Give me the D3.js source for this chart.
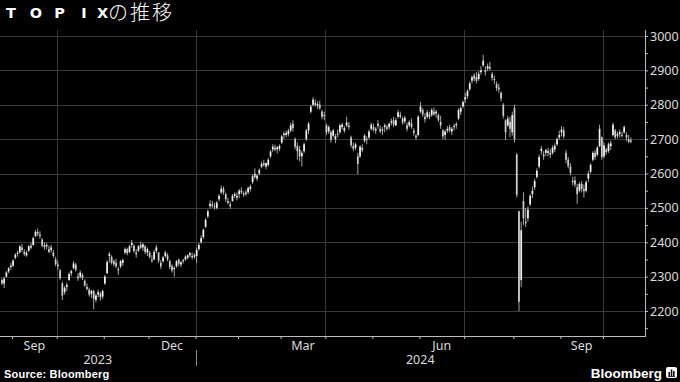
<!DOCTYPE html>
<html><head><meta charset="utf-8">
<script src="https://cdn.jsdelivr.net/npm/d3@7"></script>
<style>html,body{margin:0;padding:0;background:#000;}svg{display:block;}</style>
</head><body>
<svg id="chart" width="680" height="382"></svg>
<script>
// ---------- data ----------
const firstDay = "2023-08-25";
const lastDay = "2024-10-18";
const holidays = ["2023-09-18","2023-10-09","2023-11-03","2023-11-23","2024-01-01","2024-01-02","2024-01-03","2024-01-08","2024-02-12","2024-02-23","2024-03-20","2024-04-29","2024-05-03","2024-05-06","2024-07-15","2024-08-12","2024-09-16","2024-09-23","2024-10-14"];

const openVals = [
 2290,2280,2300,2315,2328,
 2332,2355,2366,2370,2385,2372,2362,2375,2390,2392,2418,2430,2422,2408,2392,2388,2380,2378,2370,2350,
 2335,2318,2280,2255,2270,2290,2310,2325,2335,2300,2300,2305,2288,2270,2262,2250,2258,2232,2248,2250,2242,
 2280,2310,2360,2358,2345,2340,2322,2330,2340,2370,2380,2372,2392,2390,2370,2375,2392,2385,2388,2370,
 2370,2350,2350,2375,2370,2340,2345,2360,2362,2345,2330,2322,2330,2350,2335,2345,2350,2355,2362,2360,2358,
 2360,2380,2400,2415,2445,2475,2505,2510,2505,2500,2525,2545,2555,2540,2520,2510,2520,2535,2530,
 2540,2550,2540,2545,2545,2555,2575,2600,2585,2600,2620,2630,2620,2625,2650,2670,2675,2670,2672,
 2690,2712,2712,2715,2725,2745,2700,2680,2670,2650,2665,2700,2725,2780,2800,2805,2798,2800,2780,2770,
 2740,2722,2720,2710,2700,2715,2720,2735,2725,2740,2740,2705,2680,2675,2650,2650,2675,2695,2700,2705,2730,
 2735,2725,2745,2730,2725,2735,2735,2735,2748,2755,2740,2765,2770,2760,2752,2740,2740,2745,2725,2710,2712,
 2780,2785,2765,2765,2772,2770,2780,2775,2770,2750,2725,2712,2725,2735,2722,2735,2740,2760,2780,2795,
 2815,2825,2845,2870,2885,2880,2875,2895,2915,2900,2905,2910,2890,2875,2860,2850,2835,2800,2755,2740,2750,2720,
 2790,2655,2490,2290,2520,2460,2470,2510,2540,2560,2590,2620,2665,2655,2660,2660,2660,2660,2670,2685,2705,
 2720,2725,2660,2640,2620,2575,2580,2560,2550,2570,2555,2550,2585,2605,2640,2660,2655,2680,2705,
 2650,2670,2665,2680,2712,2725,2710,2715,2712,2720,2712,2700,2695
];
const highVals = [
 2295,2300,2316,2328,2340,
 2350,2368,2375,2392,2395,2380,2375,2392,2398,2416,2436,2440,2432,2412,2400,2398,2390,2392,2378,2358,
 2345,2322,2285,2272,2282,2312,2320,2345,2340,2310,2318,2310,2292,2280,2268,2262,2262,2250,2262,2256,2262,
 2305,2348,2372,2362,2350,2352,2328,2348,2352,2385,2384,2392,2407,2394,2380,2392,2402,2398,2392,2385,
 2375,2362,2378,2392,2372,2348,2360,2375,2368,2350,2336,2330,2348,2352,2345,2352,2362,2365,2372,2370,2368,
 2385,2398,2420,2440,2470,2495,2522,2520,2515,2520,2540,2565,2562,2545,2530,2518,2540,2545,2545,
 2555,2560,2548,2552,2562,2568,2598,2615,2598,2615,2635,2640,2632,2645,2668,2685,2684,2680,2685,
 2712,2722,2725,2730,2748,2755,2705,2690,2680,2665,2690,2730,2750,2800,2822,2815,2810,2812,2785,2780,
 2745,2740,2725,2730,2715,2728,2745,2748,2738,2765,2750,2710,2690,2690,2660,2682,2685,2715,2708,2728,2748,
 2745,2735,2755,2740,2735,2745,2742,2748,2760,2765,2762,2785,2780,2765,2768,2748,2755,2760,2732,2715,2770,
 2808,2790,2775,2785,2780,2790,2792,2785,2775,2768,2730,2728,2738,2742,2735,2745,2750,2790,2795,2812,
 2835,2845,2868,2885,2892,2895,2898,2912,2946,2912,2920,2925,2895,2885,2868,2862,2838,2805,2758,2768,2765,2780,
 2800,2660,2492,2460,2545,2500,2505,2540,2562,2585,2615,2655,2680,2665,2672,2675,2672,2682,2688,2705,2725,
 2738,2735,2668,2648,2630,2590,2592,2570,2575,2578,2568,2580,2608,2630,2665,2668,2680,2742,2708,
 2690,2675,2690,2695,2748,2730,2722,2728,2722,2740,2720,2712,2705
];
const lowVals = [
 2275,2267,2298,2310,2320,
 2328,2350,2358,2368,2372,2360,2358,2372,2380,2390,2415,2418,2410,2385,2378,2380,2368,2370,2355,2330,
 2320,2290,2232,2248,2258,2288,2302,2322,2315,2288,2295,2290,2270,2260,2242,2238,2205,2225,2240,2230,2235,
 2276,2308,2340,2335,2330,2325,2305,2325,2332,2365,2362,2368,2384,2370,2355,2372,2380,2375,2365,2360,
 2352,2340,2348,2368,2340,2322,2340,2355,2345,2322,2312,2300,2326,2330,2328,2338,2346,2350,2356,2350,2352,
 2340,2376,2396,2410,2442,2470,2498,2500,2495,2495,2520,2540,2538,2518,2510,2497,2518,2528,2522,
 2528,2540,2532,2535,2540,2548,2570,2585,2578,2595,2615,2620,2612,2620,2645,2662,2665,2658,2665,
 2686,2700,2705,2708,2720,2722,2670,2640,2635,2620,2660,2695,2715,2775,2795,2795,2788,2785,2758,2755,
 2712,2715,2690,2705,2688,2705,2715,2728,2718,2735,2728,2675,2665,2668,2598,2645,2662,2690,2685,2700,2725,
 2722,2715,2730,2718,2712,2720,2725,2728,2740,2735,2738,2760,2760,2742,2745,2722,2735,2730,2710,2698,2708,
 2775,2765,2748,2760,2758,2765,2768,2762,2750,2730,2700,2698,2718,2720,2712,2725,2730,2755,2770,2790,
 2805,2818,2840,2862,2868,2862,2870,2888,2910,2885,2898,2900,2870,2860,2840,2835,2810,2760,2698,2735,2706,2710,
 2690,2530,2200,2270,2450,2445,2460,2505,2528,2552,2585,2615,2655,2640,2650,2650,2645,2655,2662,2680,2698,
 2708,2702,2630,2615,2595,2565,2560,2512,2545,2545,2530,2545,2575,2600,2635,2640,2650,2676,2640,
 2645,2655,2660,2668,2708,2700,2702,2705,2705,2715,2695,2688,2688
];
const closeVals = [
 2280,2294,2312,2324,2332,
 2347,2364,2369,2388,2378,2366,2370,2388,2384,2412,2430,2425,2418,2390,2386,2392,2372,2385,2360,2336,
 2330,2296,2245,2268,2276,2308,2316,2338,2320,2295,2312,2296,2275,2264,2248,2258,2236,2245,2255,2240,2258,
 2300,2342,2366,2340,2336,2330,2318,2345,2348,2380,2368,2388,2398,2374,2365,2388,2384,2394,2372,2380,
 2358,2346,2372,2385,2346,2330,2356,2370,2350,2328,2318,2325,2345,2338,2342,2348,2358,2362,2368,2356,2362,
 2378,2392,2412,2436,2465,2490,2512,2506,2502,2515,2535,2556,2545,2525,2515,2505,2535,2540,2535,
 2550,2545,2542,2540,2558,2562,2592,2590,2594,2610,2628,2625,2630,2640,2664,2678,2670,2676,2680,
 2708,2716,2718,2724,2740,2732,2678,2665,2650,2660,2685,2725,2745,2795,2815,2800,2802,2790,2765,2768,
 2720,2735,2698,2725,2708,2712,2740,2742,2732,2748,2735,2682,2672,2685,2628,2678,2668,2710,2698,2722,2742,
 2728,2730,2738,2722,2728,2740,2730,2745,2752,2742,2755,2778,2765,2748,2762,2730,2750,2735,2718,2705,2765,
 2795,2772,2758,2778,2765,2785,2772,2780,2756,2740,2708,2722,2730,2725,2730,2738,2744,2785,2790,2808,
 2822,2840,2862,2880,2876,2870,2890,2900,2928,2895,2912,2905,2878,2872,2848,2845,2818,2768,2720,2760,2730,2770,
 2700,2538,2227,2435,2470,2455,2495,2535,2550,2578,2608,2648,2672,2650,2668,2665,2655,2675,2680,2700,2712,
 2728,2708,2640,2622,2602,2578,2568,2540,2570,2555,2548,2575,2600,2625,2660,2648,2675,2730,2648,
 2682,2662,2685,2688,2742,2705,2715,2720,2710,2735,2705,2692,2696
];
const yTickValues = [2150,2200,2250,2300,2350,2400,2450,2500,2550,2600,2650,2700,2750,2800,2850,2900,2950,3000];
const monthNames = ["Jan","Feb","Mar","Apr","May","Jun","Jul","Aug","Sep","Oct","Nov","Dec"];
const labelledMonths = [2, 5, 8, 11];   // Mar, Jun, Sep, Dec
const gridMonths = [0, 3, 6, 9];        // Jan, Apr, Jul, Oct
const titleLatin = ["T","O","P","I","X"];
const titleJa = "の推移";
const sourceText = "Source: Bloomberg";

// ---------- trading days ----------
const dates = [];
{
  const d = new Date(firstDay + "T00:00:00Z");
  const end = new Date(lastDay + "T00:00:00Z");
  while (d <= end) {
    const wd = d.getUTCDay();
    const iso = d.toISOString().slice(0, 10);
    if (wd !== 0 && wd !== 6 && !holidays.includes(iso)) dates.push(new Date(d));
    d.setUTCDate(d.getUTCDate() + 1);
  }
}
const data = dates.map((date, i) => ({date, o: openVals[i], h: highVals[i], l: lowVals[i], c: closeVals[i]}));

// ---------- layout ----------
const W = 680, H = 382;
const plot = {left: 0, right: 645, top: 30, bottom: 336};
const svg = d3.select("#chart");
svg.append("rect").attr("width", W).attr("height", H).attr("fill", "#000");

const x = d3.scaleLinear().domain([0, data.length - 1]).range([1.9, 630.9]);
const y = d3.scaleLinear().domain([2200, 3000]).range([311, 36]);

// month boundaries
const bounds = [];
for (let i = 1; i < data.length; i++) {
  if (data[i].date.getUTCMonth() !== data[i - 1].date.getUTCMonth())
    bounds.push({idx: i - 0.5, month: data[i].date.getUTCMonth(), year: data[i].date.getUTCFullYear()});
}

// horizontal grid
svg.append("g").selectAll("line").data(yTickValues.filter(v => v % 100 === 0)).join("line")
  .attr("x1", plot.left).attr("x2", plot.right)
  .attr("y1", d => Math.round(y(d)) + 0.5).attr("y2", d => Math.round(y(d)) + 0.5)
  .attr("stroke", "#3a3a3a").attr("stroke-width", 1);

// vertical quarter grid
svg.append("g").selectAll("line").data(bounds.filter(b => gridMonths.includes(b.month))).join("line")
  .attr("x1", d => Math.round(x(d.idx)) + 0.5).attr("x2", d => Math.round(x(d.idx)) + 0.5)
  .attr("y1", plot.top).attr("y2", plot.bottom)
  .attr("stroke", "#3a3a3a").attr("stroke-width", 1);

// candles
const cg = svg.append("g");
cg.selectAll("line").data(data).join("line")
  .attr("x1", (d, i) => x(i)).attr("x2", (d, i) => x(i))
  .attr("y1", d => y(d.h)).attr("y2", d => y(d.l))
  .attr("stroke", "#b8b8b8").attr("stroke-width", 0.9);
cg.selectAll("rect").data(data).join("rect")
  .attr("x", (d, i) => x(i) - 0.85).attr("width", 1.7)
  .attr("y", d => y(Math.max(d.o, d.c)))
  .attr("height", d => Math.max(1, Math.abs(y(d.o) - y(d.c))))
  .attr("fill", d => d.c >= d.o ? "#f2f2f2" : "#cfcfcf");

// right axis
const yAxis = d3.axisRight(y).tickValues(yTickValues).tickSize(3)
  .tickFormat(d => d % 100 === 0 ? d3.format("d")(d) : "");
const ya = svg.append("g").attr("transform", `translate(${plot.right},0)`).call(yAxis);
ya.select(".domain").remove();
ya.selectAll(".tick line").attr("stroke", "#bdbdbd");
ya.selectAll(".tick text").attr("x", 5).attr("fill", "#dcdcdc")
  .style("font-family", "'Noto Sans', sans-serif").style("font-size", "12.5px");
svg.append("line").attr("x1", plot.right + 0.5).attr("x2", plot.right + 0.5)
  .attr("y1", plot.top).attr("y2", plot.bottom + 0.5).attr("stroke", "#bdbdbd");

// bottom axis
const xAxis = d3.axisBottom(x).tickValues(bounds.map(b => b.idx)).tickSize(3).tickFormat("");
const xa = svg.append("g").attr("transform", `translate(0,${plot.bottom})`).call(xAxis);
xa.select(".domain").remove();
xa.selectAll(".tick line").attr("stroke", "#bdbdbd");
svg.append("line").attr("x1", plot.left).attr("x2", plot.right + 1)
  .attr("y1", plot.bottom + 0.5).attr("y2", plot.bottom + 0.5).attr("stroke", "#bdbdbd");

// month labels
const labelFont = "'Noto Sans', sans-serif";
bounds.forEach((b, k) => {
  if (!labelledMonths.includes(b.month)) return;
  const next = k + 1 < bounds.length ? x(bounds[k + 1].idx) : plot.right;
  svg.append("text").attr("x", (x(b.idx) + next) / 2).attr("y", 350)
    .attr("text-anchor", "middle").attr("fill", "#dcdcdc")
    .style("font-family", labelFont).style("font-size", "12.5px")
    .text(monthNames[b.month]);
});

// year labels
const janBound = bounds.find(b => b.month === 0);
const xJan = x(janBound.idx);
[[String(janBound.year - 1), plot.left, xJan], [String(janBound.year), xJan, plot.right]].forEach(([t, a, b]) => {
  svg.append("text").attr("x", (a + b) / 2).attr("y", 363.5)
    .attr("text-anchor", "middle").attr("fill", "#dcdcdc")
    .style("font-family", labelFont).style("font-size", "12.5px").text(t);
});
svg.append("line").attr("x1", Math.round(xJan) + 0.5).attr("x2", Math.round(xJan) + 0.5)
  .attr("y1", 350).attr("y2", 366).attr("stroke", "#8a8a8a");

// title
const titleLetterX = [11, 36, 59.5, 84, 102.5];
const tt = svg.append("text").attr("y", 17.5).attr("fill", "#fff").attr("text-anchor", "middle")
  .style("font-family", "'DejaVu Sans', sans-serif").style("font-weight", "bold")
  .style("font-size", "14.5px");
titleLatin.forEach((ch, i) => tt.append("tspan").attr("x", titleLetterX[i]).text(ch));
svg.append("text").attr("x", 108).attr("y", 20).attr("fill", "#fff")
  .style("font-family", "'Noto Sans CJK JP', sans-serif").style("font-weight", "300")
  .style("font-size", "20px").style("letter-spacing", "2px").text(titleJa);

// source
svg.append("text").attr("x", 4).attr("y", 378).attr("fill", "#fff")
  .style("font-family", "'Liberation Sans', Arial, sans-serif").style("font-weight", "bold")
  .style("font-size", "11px").style("letter-spacing", "0.2px").text(sourceText);

// Bloomberg logo
svg.append("text").attr("x", 662).attr("y", 377.5).attr("text-anchor", "end").attr("fill", "#fff")
  .style("font-family", "'Liberation Sans', Arial, sans-serif").style("font-weight", "bold")
  .style("font-size", "13.5px").text("Bloomberg");
const icon = svg.append("g").attr("transform", "translate(666,367)");
icon.append("rect").attr("width", 11).attr("height", 11).attr("rx", 2).attr("fill", "#fff");
[[2.5, 5, 4], [4.8, 2.5, 6.5], [7.1, 4, 5]].forEach(([bx, by, bh]) =>
  icon.append("rect").attr("x", bx).attr("y", by).attr("width", 1.5).attr("height", bh).attr("fill", "#000"));
icon.append("rect").attr("x", 2).attr("y", 9).attr("width", 7).attr("height", 0.8).attr("fill", "#000");
</script>
</body></html>
